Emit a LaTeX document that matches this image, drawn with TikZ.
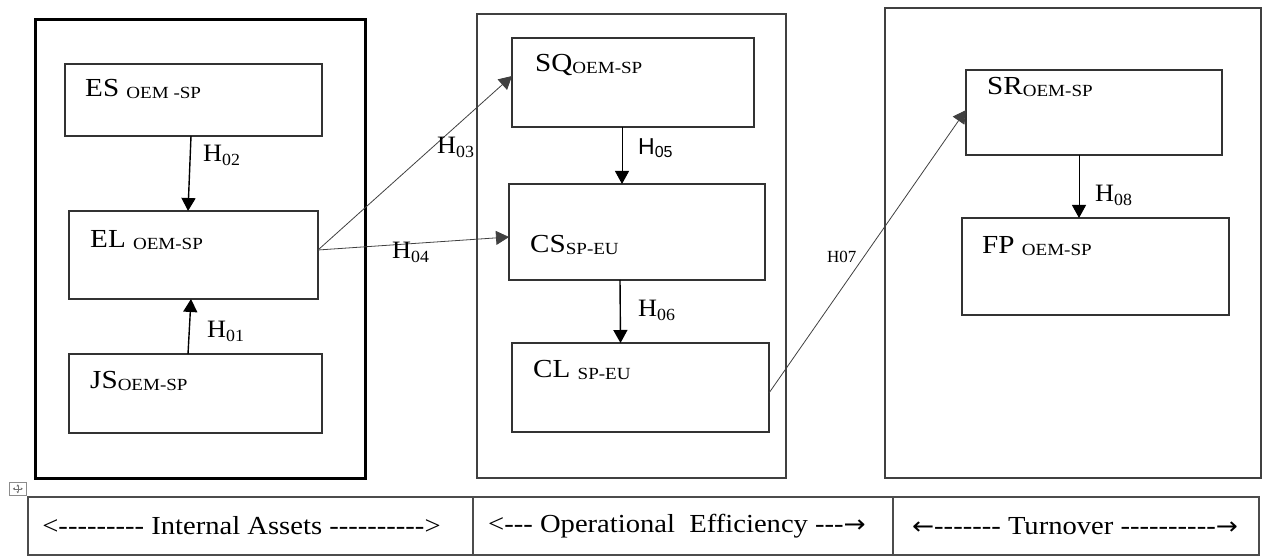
\documentclass[tikz,border=0pt]{standalone}
\usepackage{fontspec}
\setmainfont{Liberation Serif}[Ligatures=TeXOff]
\newfontfamily\arialfont{Liberation Sans}
\newfontfamily\arrowfont{DejaVu Sans}
\usetikzlibrary{arrows.meta,calc}

% lowered small capitals used as subscripts in the construct names
\newcommand\csub[1]{\raisebox{-2pt}{\fontsize{17}{17}\selectfont #1}}
% subscripts of the hypothesis labels
\newcommand\hsub[1]{\raisebox{-4pt}{\fontsize{17}{17}\selectfont #1}}
% arrows of the stage legend
\newcommand\rarr{{\arrowfont\fontsize{24}{24}\selectfont →}}
\newcommand\larr{{\arrowfont\fontsize{24}{24}\selectfont ←}}

\begin{document}
\begin{tikzpicture}[x=1pt,y=-1pt,
  frame/.style={draw=black!75, line width=1.2pt, inner sep=0pt, outer sep=0pt, anchor=north west},
  bigframe/.style={frame, draw=black, line width=3pt},
  box/.style={draw=black!80, line width=1.3pt, inner sep=0pt, outer sep=0pt, anchor=north west},
  lbl/.style={inner sep=0pt, anchor=base west, font=\fontsize{26}{26}\selectfont, xscale=1.12},
  hyp/.style={inner sep=0pt, anchor=base west, font=\fontsize{25}{25}\selectfont, xscale=1.05},
  arr/.style={-{Triangle[width=14pt,length=13pt]}, line width=1.4pt, draw=black},
  thinarr/.style={arr, line width=0.8pt, draw=black!75},
  cell/.style={draw=black!70, line width=1.3pt, inner sep=0pt, outer sep=0pt, anchor=north west,
               font=\fontsize{26}{26}\selectfont},
  celltxt/.style={inner sep=0pt, font=\fontsize{26}{26}\selectfont, xscale=1.1}
]
\useasboundingbox (0,0) rectangle (1263,556);

% three stage frames
\node[bigframe, minimum width=330pt, minimum height=458pt] (ia) at (35,20) {};
\node[frame, minimum width=309pt, minimum height=464pt] (oe) at (477,14) {};
\node[frame, minimum width=376pt, minimum height=470pt] (tv) at (885,8) {};

% constructs
\node[box, minimum width=257pt, minimum height=72pt] (es) at (65,64) {};
\node[box, minimum width=249pt, minimum height=88pt] (el) at (69,211) {};
\node[box, minimum width=253pt, minimum height=79pt] (js) at (69,354) {};
\node[box, minimum width=242pt, minimum height=89pt] (sq) at (512,38) {};
\node[box, minimum width=256pt, minimum height=96pt] (cs) at (509,184) {};
\node[box, minimum width=257pt, minimum height=89pt] (cl) at (512,343) {};
\node[box, minimum width=256pt, minimum height=85pt] (sr) at (966,70) {};
\node[box, minimum width=267pt, minimum height=97pt] (fp) at (962,218) {};

% construct names
\node[lbl] (esl) at ($(es.north west)+(20,33)$) {ES \csub{OEM -SP}};
\node[lbl] (ell) at ($(el.north west)+(21,36)$) {EL \csub{OEM-SP}};
\node[lbl] (jsl) at ($(js.north west)+(21,34)$) {JS\csub{OEM-SP}};
\node[lbl] (sql) at ($(sq.north west)+(23,34)$) {SQ\csub{OEM-SP}};
\node[lbl] (csl) at ($(cs.north west)+(21,68)$) {CS\csub{SP-EU}};
\node[lbl] (cll) at ($(cl.north west)+(21,34)$) {CL \csub{SP-EU}};
\node[lbl] (srl) at ($(sr.north west)+(21,25)$) {SR\csub{OEM-SP}};
\node[lbl] (fpl) at ($(fp.north west)+(20,35)$) {FP \csub{OEM-SP}};

% hypothesised paths
\draw[arr] ([xshift=-2.5pt]es.south) -- ([xshift=-5.5pt]el.north);
\draw[arr] ([xshift=-7.5pt]js.north) -- ([xshift=-2.5pt]el.south);
\draw[thinarr] ([yshift=5pt]el.east) -- ([yshift=6.5pt]sq.west);
\draw[thinarr] ([yshift=5pt]el.east) -- ([yshift=-5pt]cs.west);
\draw[arr, line width=1pt] ([xshift=-11pt]sq.south) -- ([xshift=-15pt]cs.north);
\draw[arr] ([xshift=-17pt]cs.south) -- ([xshift=-20pt]cl.north);
\draw[thinarr] ([yshift=-5.5pt]cl.east) -- ([yshift=2.5pt]sr.west);
\draw[arr, line width=1pt] ([xshift=-15pt]sr.south) -- ([xshift=-16.5pt]fp.north);

% path labels
\node[hyp] (h02) at (203,162) {H\hsub{02}};
\node[hyp] (h01) at (207,337) {H\hsub{01}};
\node[hyp] (h03) at (437,154) {H\hsub{03}};
\node[hyp] (h04) at (392,258) {H\hsub{04}};
\node[inner sep=0pt, anchor=base west, font=\arialfont\fontsize{23}{23}\selectfont] (h05) at (638,155)
  {H\raisebox{-3pt}{\fontsize{16}{16}\selectfont 05}};
\node[hyp] (h06) at (638,316) {H\hsub{06}};
\node[inner sep=0pt, anchor=base west, font=\fontsize{17}{17}\selectfont] (h07) at (827,262) {H07};
\node[hyp] (h08) at (1095,202) {H\hsub{08}};

% table move handle
\node[draw=black!45, line width=0.6pt, minimum width=17pt, minimum height=13pt, inner sep=0pt, anchor=north west] (mv) at (9,482) {};
\draw[black!55, line width=0.6pt, -{Triangle[width=2.5pt,length=2pt]}] (mv.center) -- ++(5,0);
\draw[black!55, line width=0.6pt, -{Triangle[width=2.5pt,length=2pt]}] (mv.center) -- ++(-5,0);
\draw[black!55, line width=0.6pt, -{Triangle[width=2.5pt,length=2pt]}] (mv.center) -- ++(0,4.5);
\draw[black!55, line width=0.6pt, -{Triangle[width=2.5pt,length=2pt]}] (mv.center) -- ++(0,-4.5);

% stage legend
\node[cell, minimum width=445pt, minimum height=58pt] (c1) at (28,497) {};
\node[cell, minimum width=420pt, minimum height=58pt] (c2) at (473,497) {};
\node[cell, minimum width=366pt, minimum height=58pt] (c3) at (893,497) {};
\node[celltxt] (t1) at ($(c1.center)+(-9,0)$) {<--------- Internal Assets ---------->};
\node[celltxt] (t2) at ($(c2.center)+(-6,0)$) {<--- Operational\ \ Efficiency ---\rarr};
\node[celltxt] (t3) at ($(c3.center)+(-1,0)$) {\larr------- Turnover ----------\rarr};
\end{tikzpicture}
\end{document}
